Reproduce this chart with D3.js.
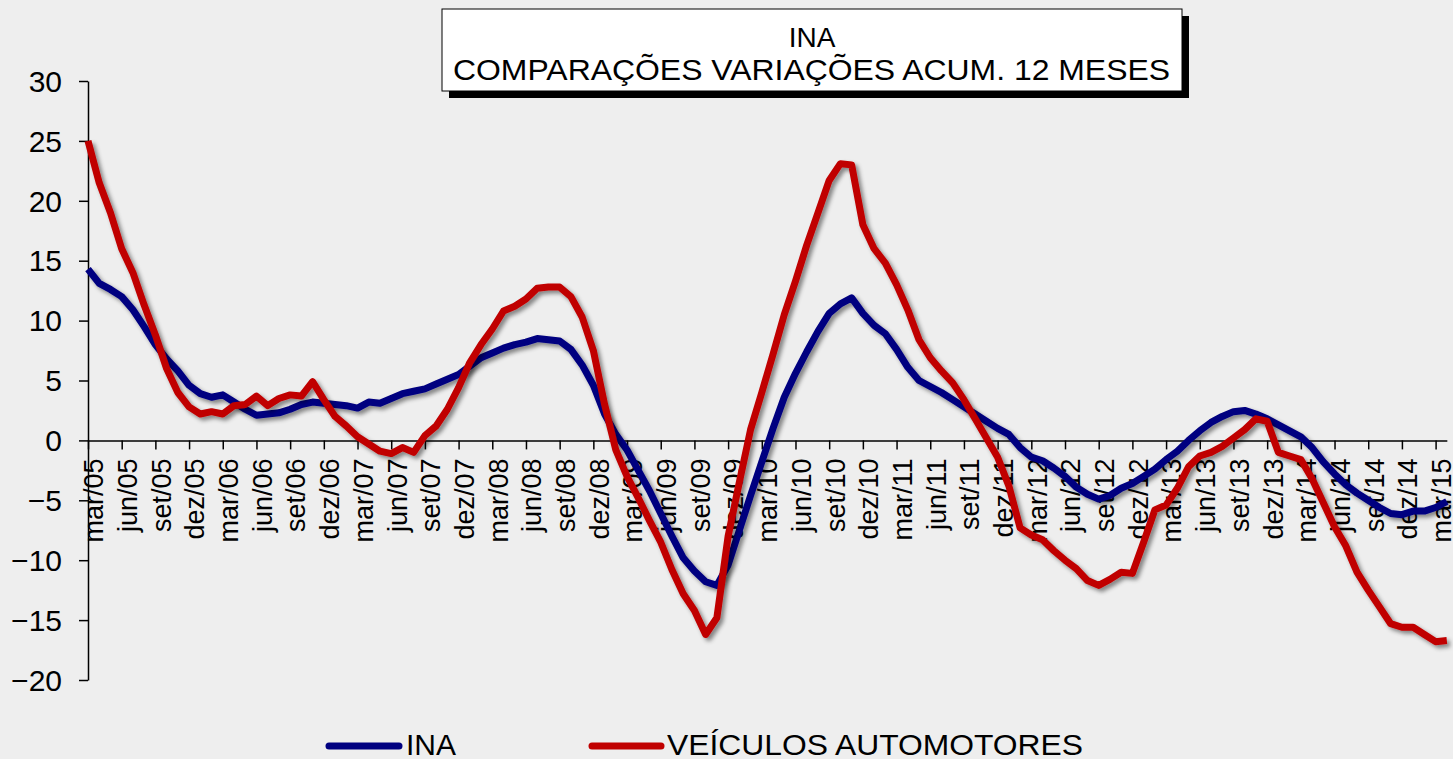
<!DOCTYPE html>
<html>
<head>
<meta charset="utf-8">
<title>INA - comparações variações acum. 12 meses</title>
<script src="https://cdn.jsdelivr.net/npm/d3@7"></script>
<style>
body{margin:0;background:#eeeeee;overflow:hidden;}
svg{display:block;}
text{font-family:"Liberation Sans",Arial,sans-serif;fill:#000;}
</style>
</head>
<body>
<div id="chart"></div>
<script>
var w=1453,h=759;

// meses de mar/05 a abr/15 (122 pontos)
var nomesMes=['jan','fev','mar','abr','mai','jun','jul','ago','set','out','nov','dez'];
var categorias=[];
for(var k=0;k<122;k++){
  var m=(2+k)%12, a=5+Math.floor((2+k)/12);
  categorias.push(nomesMes[m]+'/'+(a<10?'0'+a:a));
}

var rotulosX=['mar/05','jun/05','set/05','dez/05','mar/06','jun/06','set/06','dez/06',
  'mar/07','jun/07','set/07','dez/07','mar/08','jun/08','set/08','dez/08',
  'mar/09','jun/09','set/09','dez/09','mar/10','jun/10','set/10','dez/10',
  'mar/11','jun/11','set/11','dez/11','mar/12','jun/12','set/12','dez/12',
  'mar/13','jun/13','set/13','dez/13','mar/14','jun/14','set/14','dez/14','mar/15'];

var ticksY=[-20,-15,-10,-5,0,5,10,15,20,25,30];

var ina=[14.3,13.1,12.6,12.0,10.9,9.5,8.0,6.8,5.8,4.6,
  3.9,3.6,3.8,3.2,2.6,2.1,2.2,2.3,2.6,3.0,
  3.2,3.1,3.0,2.9,2.7,3.2,3.1,3.5,3.9,4.1,
  4.3,4.7,5.1,5.5,6.2,6.9,7.3,7.7,8.0,8.2,
  8.5,8.4,8.3,7.6,6.3,4.6,2.2,0.5,-0.8,-2.5,
  -4.2,-6.1,-8.0,-9.8,-10.9,-11.8,-12.1,-10.4,-7.5,-4.6,
  -1.8,1.0,3.6,5.6,7.4,9.1,10.6,11.4,11.9,10.6,
  9.6,8.9,7.6,6.1,5.0,4.5,4.0,3.4,2.8,2.2,
  1.6,1.0,0.5,-0.6,-1.4,-1.7,-2.3,-3.0,-3.9,-4.5,
  -4.9,-4.6,-4.0,-3.6,-3.0,-2.4,-1.6,-0.9,0.0,0.8,
  1.5,2.0,2.4,2.5,2.2,1.8,1.3,0.8,0.3,-0.6,
  -1.8,-2.8,-3.7,-4.4,-5.0,-5.6,-6.1,-6.2,-5.9,-5.9,
  -5.6,-5.1];

var veiculos=[25.0,21.5,19.0,16.0,14.0,11.3,8.8,6.0,4.0,2.8,
  2.2,2.4,2.2,2.9,3.0,3.7,2.9,3.5,3.8,3.7,
  4.9,3.4,2.0,1.2,0.3,-0.3,-0.9,-1.1,-0.6,-1.0,
  0.4,1.2,2.6,4.4,6.5,8.0,9.3,10.8,11.2,11.8,
  12.7,12.8,12.8,12.0,10.3,7.5,3.0,-0.8,-3.0,-4.8,
  -6.7,-8.5,-10.8,-12.8,-14.2,-16.2,-14.8,-8.0,-3.5,0.9,
  4.0,7.2,10.5,13.3,16.3,19.0,21.7,23.1,23.0,18.0,
  16.0,14.8,13.0,10.9,8.4,6.9,5.8,4.8,3.4,1.8,
  0.2,-1.4,-3.8,-7.3,-7.9,-8.3,-9.2,-10.0,-10.7,-11.7,
  -12.1,-11.6,-11.0,-11.1,-8.5,-5.8,-5.4,-4.0,-2.2,-1.3,
  -1.0,-0.5,0.2,0.9,1.8,1.6,-1.0,-1.3,-1.6,-3.2,
  -5.2,-7.2,-8.8,-11.0,-12.5,-13.9,-15.3,-15.6,-15.6,-16.2,
  -16.8,-16.7];

var corIna='#000080', corVeic='#c00000';

var svg=d3.select('#chart').append('svg')
  .attr('width',w)
  .attr('height',h);

svg.append('rect').attr('width',w).attr('height',h).attr('fill','#eeeeee');

var defs=svg.append('defs');
var sombra=defs.append('filter').attr('id','sombra')
  .attr('filterUnits','userSpaceOnUse')
  .attr('x',0).attr('y',0).attr('width',w).attr('height',h);
sombra.append('feDropShadow')
  .attr('dx',3).attr('dy',3)
  .attr('stdDeviation',2)
  .attr('flood-color','#000')
  .attr('flood-opacity',0.45);

var x=d3.scaleLinear().domain([0,categorias.length-1]).range([88,88+121*11.23]);
var y=d3.scaleLinear().domain([-20,30]).range([680,81]);

// eixo Y
var gy=svg.append('g')
  .attr('transform','translate('+x(0)+',0)')
  .call(d3.axisLeft(y).tickValues(ticksY).tickSize(9).tickSizeOuter(0).tickPadding(17));
gy.select('.domain').attr('stroke','#000').attr('stroke-width',1.5);
gy.selectAll('.tick line').attr('stroke','#000').attr('stroke-width',1.5);
gy.selectAll('.tick text')
  .attr('font-size','30px')
  .attr('font-family','"Liberation Sans",Arial,sans-serif')
  .attr('dy','0.34em');

// eixo X (categorias, rótulos a cada 3 meses)
var idxTicks=rotulosX.map(function(r){ return categorias.indexOf(r); });
var gx=svg.append('g')
  .attr('transform','translate(0,'+y(0)+')')
  .call(d3.axisBottom(x).tickValues(idxTicks).tickSize(9).tickSizeOuter(0)
    .tickFormat(function(d){ return categorias[d]; }));
gx.select('.domain').attr('stroke','#000').attr('stroke-width',1.5);
gx.selectAll('.tick line').attr('stroke','#000').attr('stroke-width',1.5);
gx.selectAll('.tick text')
  .attr('font-size','27px')
  .attr('font-family','"Liberation Sans",Arial,sans-serif')
  .attr('transform','rotate(-90)')
  .attr('text-anchor','end')
  .attr('x',-18)
  .attr('y',0)
  .attr('dy','0.55em');

// linhas
var linha=d3.line()
  .x(function(d,i){ return x(i); })
  .y(function(d){ return y(d); });

svg.append('path')
  .datum(ina)
  .attr('d',linha)
  .attr('fill','none')
  .attr('stroke',corIna)
  .attr('stroke-width',7)
  .attr('stroke-linejoin','round')
  .attr('filter','url(#sombra)');

svg.append('path')
  .datum(veiculos)
  .attr('d',linha)
  .attr('fill','none')
  .attr('stroke',corVeic)
  .attr('stroke-width',7)
  .attr('stroke-linejoin','round')
  .attr('filter','url(#sombra)');

// título
svg.append('rect').attr('x',449).attr('y',16).attr('width',740).attr('height',82).attr('fill','#000');
svg.append('rect').attr('x',442).attr('y',9).attr('width',740).attr('height',82)
  .attr('fill','#fff').attr('stroke','#000').attr('stroke-width',1);
svg.append('text').attr('x',812).attr('y',47)
  .attr('text-anchor','middle').attr('font-size','28px')
  .text('INA');
svg.append('text').attr('x',453).attr('y',80)
  .attr('font-size','30px')
  .attr('textLength',717).attr('lengthAdjust','spacingAndGlyphs')
  .text('COMPARAÇÕES VARIAÇÕES ACUM. 12 MESES');

// legenda
var legenda=[
  {nome:'INA',cor:corIna,x1:329,x2:399,tx:406,tl:50},
  {nome:'VEÍCULOS AUTOMOTORES',cor:corVeic,x1:592,x2:661,tx:667,tl:416}
];
var gl=svg.selectAll('g.leg').data(legenda).enter().append('g').attr('class','leg');
gl.append('line')
  .attr('x1',function(d){ return d.x1; })
  .attr('x2',function(d){ return d.x2; })
  .attr('y1',746).attr('y2',746)
  .attr('stroke',function(d){ return d.cor; })
  .attr('stroke-width',7)
  .attr('stroke-linecap','round');
gl.append('text')
  .attr('x',function(d){ return d.tx; })
  .attr('y',755)
  .attr('font-size','30px')
  .attr('textLength',function(d){ return d.tl; })
  .attr('lengthAdjust','spacingAndGlyphs')
  .text(function(d){ return d.nome; });
</script>
</body>
</html>
